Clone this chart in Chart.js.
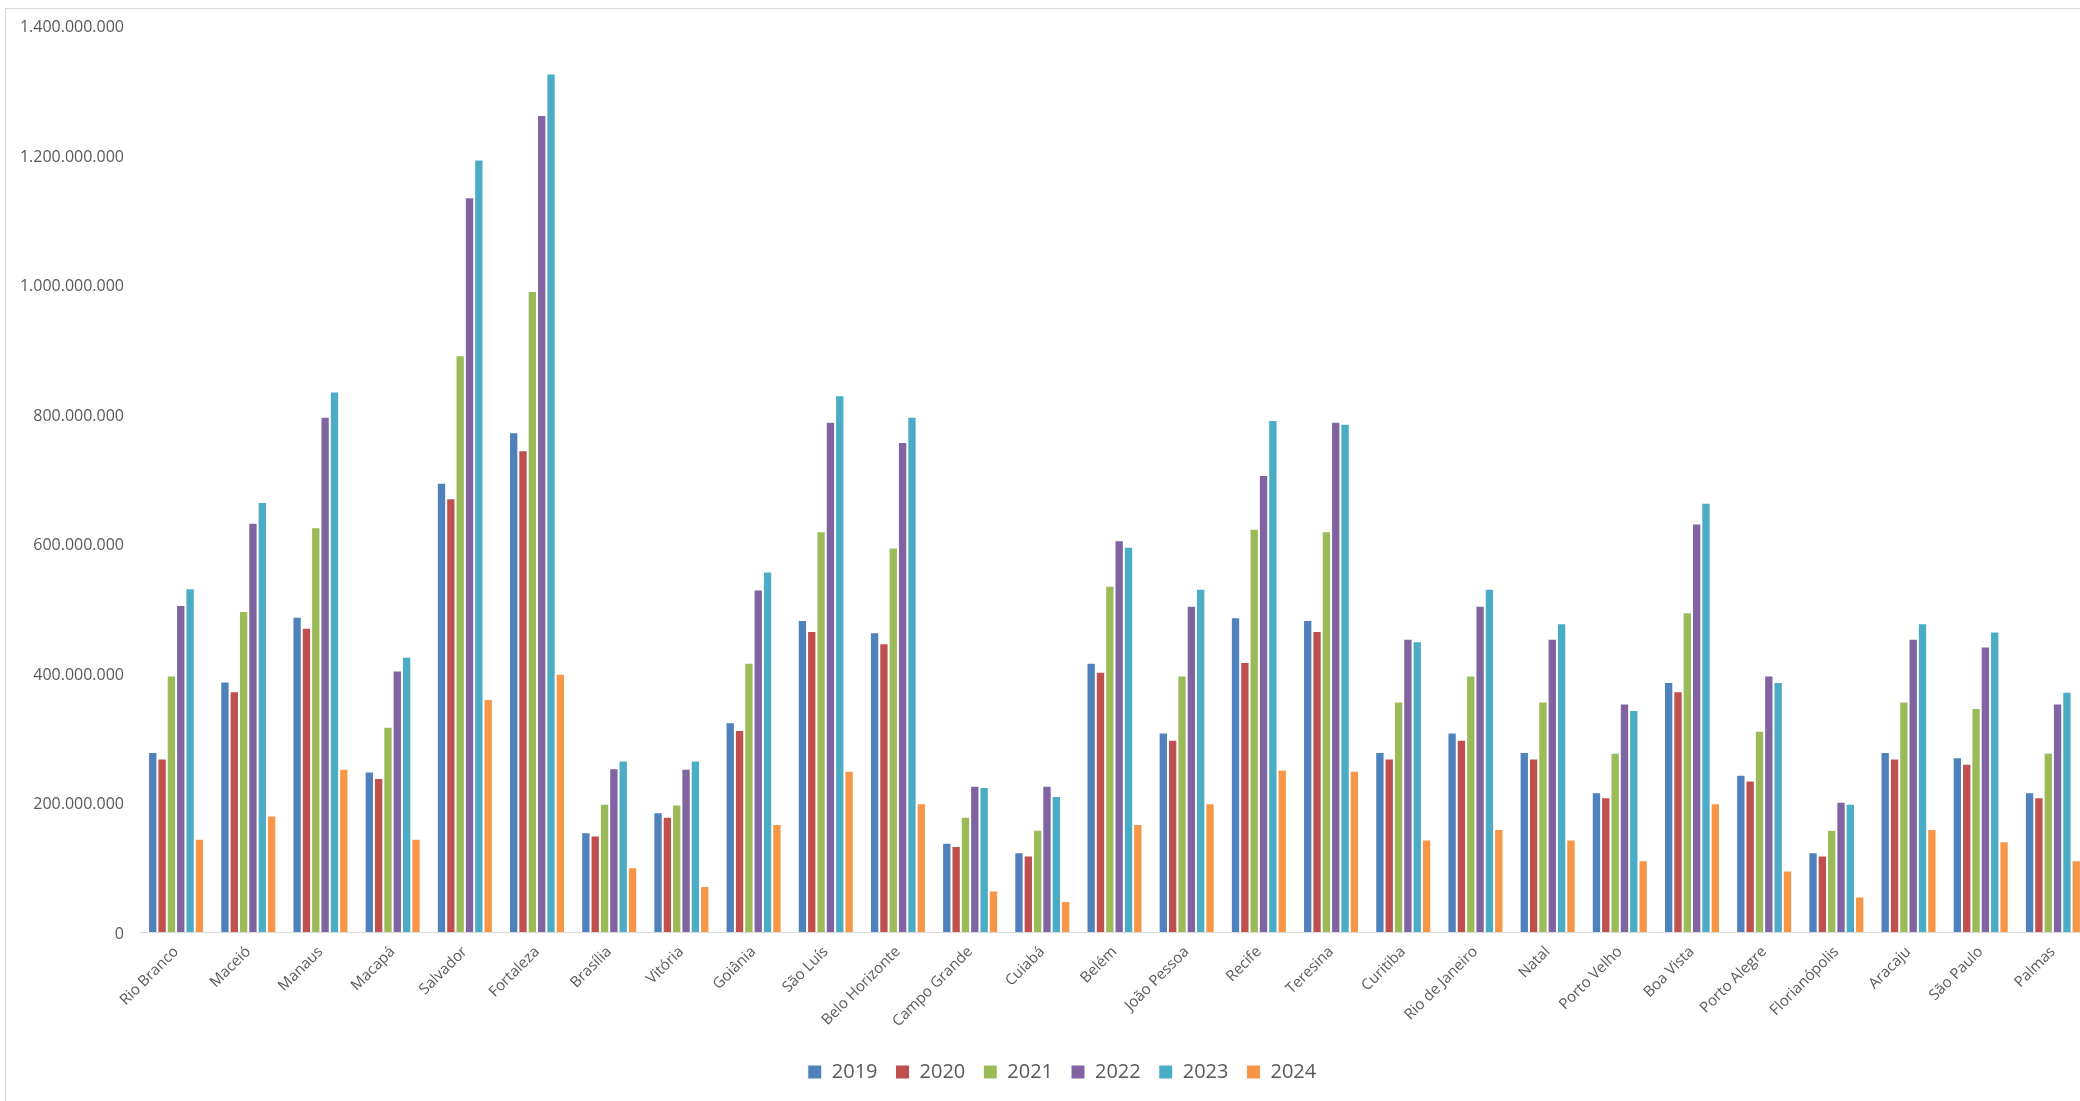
<!DOCTYPE html>
<html>
<head>
<meta charset="utf-8">
<script src="https://cdn.jsdelivr.net/npm/chart.js@4"></script>
<style>
  html, body { margin: 0; padding: 0; background: #fff; overflow: hidden; width: 2080px; height: 1101px; }
  #frame { position: absolute; left: 5px; top: 8px; width: 2300px; height: 1300px; border: 1px solid #d9d9d9; box-sizing: border-box; }
  #wrap { position: absolute; left: 5px; top: 8px; width: 2115px; height: 1084px; }
</style>
</head>
<body>
<div id="frame"></div>
<div id="wrap"><canvas id="c"></canvas></div>
<script>
const categories = ["Rio Branco","Maceió","Manaus","Macapá","Salvador","Fortaleza","Brasília","Vitória","Goiânia","São Luís","Belo Horizonte","Campo Grande","Cuiabá","Belém","João Pessoa","Recife","Teresina","Curitiba","Rio de Janeiro","Natal","Porto Velho","Boa Vista","Porto Alegre","Florianópolis","Aracaju","São Paulo","Palmas"];

const v2019 = [278e6,387e6,487e6,248e6,694e6,772e6,154e6,185e6,324e6,482e6,463e6,138e6,123e6,416e6,308e6,486e6,482e6,278e6,308e6,278e6,216e6,386e6,243e6,123e6,278e6,270e6,216e6];
const v2020 = [268e6,372e6,470e6,238e6,670e6,744e6,149e6,178e6,312e6,465e6,446e6,133e6,118e6,402e6,297e6,417e6,465e6,268e6,297e6,268e6,208e6,372e6,234e6,118e6,268e6,260e6,208e6];
const v2021 = [396e6,496e6,625e6,317e6,891e6,990e6,198e6,197e6,416e6,619e6,594e6,178e6,158e6,535e6,396e6,623e6,619e6,356e6,396e6,356e6,277e6,494e6,311e6,158e6,356e6,346e6,277e6];
const v2022 = [505e6,632e6,796e6,404e6,1135e6,1262e6,253e6,252e6,529e6,788e6,757e6,226e6,226e6,605e6,504e6,706e6,788e6,453e6,504e6,453e6,353e6,631e6,396e6,201e6,453e6,441e6,353e6];
const v2023 = [531e6,664e6,835e6,425e6,1193e6,1326e6,265e6,265e6,557e6,829e6,796e6,224e6,210e6,595e6,530e6,791e6,785e6,449e6,530e6,477e6,343e6,663e6,386e6,198e6,477e6,464e6,371e6];
const v2024 = [144e6,180e6,252e6,144e6,360e6,399e6,100e6,71e6,167e6,249e6,199e6,64e6,48e6,167e6,199e6,251e6,249e6,143e6,159e6,143e6,111e6,199e6,95e6,55e6,159e6,140e6,111e6];

const seriesNames = ["2019","2020","2021","2022","2023","2024"];
const seriesValues = [v2019, v2020, v2021, v2022, v2023, v2024];
const seriesColors = ["#4F81BD","#C0504D","#9BBB59","#8064A2","#4BACC6","#F79646"];

const yMin = 0, yMax = 1400000000, yStep = 200000000;

function fmt(v) {
  return String(Math.round(v)).replace(/\B(?=(\d{3})+(?!\d))/g, ".");
}

const FONT = "'Open Sans', 'Noto Sans', sans-serif";

// centre the legend on the full chart frame (which extends past the plot area)
const legendShift = {
  id: 'legendShift',
  afterLayout(chart) {
    const lg = chart.legend;
    if (lg) { lg.left += 15; lg.right += 15; }
  }
};

new Chart(document.getElementById('c'), {
  type: 'bar',
  data: {
    labels: categories,
    datasets: seriesNames.map((n, i) => ({
      label: n,
      data: seriesValues[i],
      backgroundColor: seriesColors[i],
      borderColor: '#ffffff',
      borderWidth: 1,
      borderSkipped: 'start',
      categoryPercentage: 0.776,
      barPercentage: 1.0
    }))
  },
  plugins: [legendShift],
  options: {
    responsive: true,
    maintainAspectRatio: false,
    animation: false,
    layout: { padding: { left: 0, right: 31, top: 15, bottom: 0 } },
    plugins: {
      legend: {
        position: 'bottom',
        labels: {
          boxWidth: 14, boxHeight: 14, padding: 18,
          color: '#595959',
          font: { family: FONT, size: 20 }
        }
      },
      tooltip: { enabled: false }
    },
    scales: {
      x: {
        grid: { display: false },
        border: { display: true, color: '#d9d9d9', width: 1 },
        ticks: {
          color: '#595959',
          font: { family: FONT, size: 15 },
          minRotation: 45, maxRotation: 45,
          autoSkip: false,
          padding: 3
        },
        afterFit: (s) => { s.height = 112; }
      },
      y: {
        min: yMin, max: yMax,
        grid: { display: false },
        border: { display: false },
        ticks: {
          stepSize: yStep,
          color: '#595959',
          font: { family: FONT, size: 16 },
          padding: 8,
          labelOffset: 2,
          callback: (v) => fmt(v)
        },
        afterFit: (s) => { s.width = 135; }
      }
    }
  }
});
</script>
</body>
</html>
